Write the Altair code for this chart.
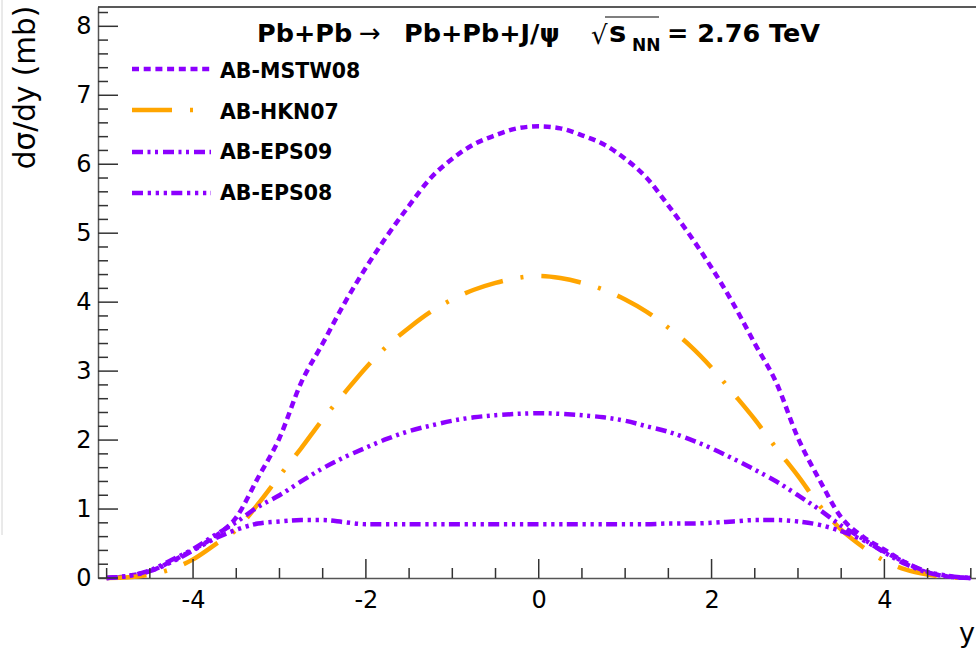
import altair as alt
import pandas as pd

# ---------------- data ----------------
rapidity = [-5.0, -4.75, -4.5, -4.25, -4.0, -3.75, -3.5, -3.25, -3.0, -2.75,
            -2.5, -2.25, -2.0, -1.75, -1.5, -1.25, -1.0, -0.75, -0.5, -0.25,
            0.0,
            0.25, 0.5, 0.75, 1.0, 1.25, 1.5, 1.75, 2.0, 2.25, 2.5,
            2.75, 3.0, 3.25, 3.5, 3.75, 4.0, 4.25, 4.5, 4.75, 5.0]

mstw08 = [0.0, 0.03, 0.10, 0.24, 0.41, 0.60, 0.88, 1.45, 2.03, 2.83,
          3.40, 3.98, 4.50, 4.97, 5.40, 5.80, 6.08, 6.29, 6.42, 6.52,
          6.55,
          6.52, 6.42, 6.29, 6.08, 5.80, 5.40, 4.97, 4.50, 3.98, 3.40,
          2.83, 2.03, 1.42, 0.88, 0.60, 0.41, 0.22, 0.08, 0.02, 0.0]

hkn07 = [0.0, 0.01, 0.05, 0.13, 0.27, 0.48, 0.70, 1.07, 1.48, 1.88,
         2.30, 2.68, 3.05, 3.37, 3.63, 3.86, 4.04, 4.18, 4.28, 4.35,
         4.38,
         4.35, 4.28, 4.18, 4.04, 3.86, 3.63, 3.37, 3.05, 2.68, 2.30,
         1.88, 1.48, 1.05, 0.70, 0.45, 0.25, 0.12, 0.05, 0.01, 0.0]

eps09 = [0.0, 0.03, 0.11, 0.26, 0.42, 0.62, 0.81, 1.03, 1.20, 1.40,
         1.59, 1.75, 1.89, 2.02, 2.13, 2.21, 2.28, 2.33, 2.36, 2.38,
         2.39,
         2.38, 2.36, 2.33, 2.28, 2.20, 2.12, 2.01, 1.88, 1.73, 1.57,
         1.40, 1.20, 0.99, 0.76, 0.57, 0.37, 0.20, 0.08, 0.02, 0.0]

eps08 = [0.0, 0.03, 0.10, 0.23, 0.40, 0.57, 0.70, 0.79, 0.82, 0.84,
         0.84, 0.81, 0.78, 0.78, 0.78, 0.78, 0.78, 0.78, 0.78, 0.78,
         0.78,
         0.78, 0.78, 0.78, 0.78, 0.78, 0.79, 0.79, 0.80, 0.82, 0.84,
         0.84, 0.82, 0.77, 0.68, 0.55, 0.38, 0.22, 0.09, 0.03, 0.0]

series_names = ["AB-MSTW08", "AB-HKN07", "AB-EPS09", "AB-EPS08"]
series_colors = ["#8C00FF", "#FFA500", "#8C00FF", "#8C00FF"]
series_dashes = [[7, 4.7], [40, 18, 3, 18], [11, 4.5, 3, 4.5, 3, 5],
                 [11, 4.7, 3.3, 4.7, 3.3, 4.7, 3.3, 4.3]]

x_label_values = [-4, -2, 0, 2, 4]
y_label_values = [0, 1, 2, 3, 4, 5, 6, 7, 8]
x_major_ticks = [-4, -2, 0, 2, 4]
x_minor_ticks = [-5, -4.5, -3.5, -3, -2.5, -1.5, -1, -0.5,
                 0.5, 1, 1.5, 2.5, 3, 3.5, 4.5, 5]
y_major_ticks = [0, 1, 2, 3, 4, 5, 6, 7, 8]
y_minor_ticks = [round(i * 0.2, 1) for i in range(0, 42) if i % 5 != 0]

rows = []
for name, vals in zip(series_names, [mstw08, hkn07, eps09, eps08]):
    for yy, v in zip(rapidity, vals):
        rows.append({"rap": yy, "val": v, "series": name})
df = pd.DataFrame(rows)

# ---------------- layout ----------------
W, H = 878, 571
FONT = "DejaVu Sans"
xscale = alt.Scale(domain=[-5.1, 5.06], nice=False, zero=False)
yscale = alt.Scale(domain=[0, 8.28], nice=False, zero=False)

x_axis = alt.Axis(values=x_label_values, ticks=False, tickSize=0,
                  domainColor="#555", domainWidth=1.5, grid=False,
                  labelFont=FONT, labelFontSize=24, labelColor="black",
                  labelPadding=10, title=None,
                  labelExpr="datum.value < 0 ? '-' + abs(datum.value) : '' + datum.value")
y_axis = alt.Axis(values=y_label_values, ticks=False, tickSize=0,
                  domainColor="#555", domainWidth=1.5, grid=False,
                  labelFont=FONT, labelFontSize=24, labelColor="black",
                  labelPadding=7, title=None, labelExpr="'' + datum.value")

lines = alt.Chart(df).mark_line(strokeWidth=4.5, interpolate="monotone").encode(
    x=alt.X("rap:Q", scale=xscale, axis=x_axis),
    y=alt.Y("val:Q", scale=yscale, axis=y_axis),
    color=alt.Color("series:N", scale=alt.Scale(domain=series_names, range=series_colors), legend=None),
    strokeDash=alt.StrokeDash("series:N", scale=alt.Scale(domain=series_names, range=series_dashes), legend=None),
)

TICK_COLOR = "#333"
xt_major = alt.Chart(pd.DataFrame({"rap": x_major_ticks})).mark_rule(color=TICK_COLOR, strokeWidth=1.5).encode(
    x=alt.X("rap:Q", scale=xscale, axis=x_axis), y=alt.value(H), y2=alt.value(H - 19))
xt_minor = alt.Chart(pd.DataFrame({"rap": x_minor_ticks})).mark_rule(color=TICK_COLOR, strokeWidth=1.5).encode(
    x=alt.X("rap:Q", scale=xscale, axis=x_axis), y=alt.value(H), y2=alt.value(H - 10))
yt_major = alt.Chart(pd.DataFrame({"val": y_major_ticks})).mark_rule(color=TICK_COLOR, strokeWidth=1.5).encode(
    y=alt.Y("val:Q", scale=yscale, axis=y_axis), x=alt.value(0), x2=alt.value(20))
yt_minor = alt.Chart(pd.DataFrame({"val": y_minor_ticks})).mark_rule(color=TICK_COLOR, strokeWidth=1.5).encode(
    y=alt.Y("val:Q", scale=yscale, axis=y_axis), x=alt.value(0), x2=alt.value(10))

top_frame = alt.Chart(pd.DataFrame({"a": [0]})).mark_rule(color="#222", strokeWidth=1.5).encode(
    x=alt.value(0), x2=alt.value(W), y=alt.value(0))

edge_line = alt.Chart(pd.DataFrame({"a": [0]})).mark_rule(color="#d4d4d4", strokeWidth=1).encode(
    x=alt.value(-96), y=alt.value(-7), y2=alt.value(528))

one = pd.DataFrame({"a": [0]})


def txt(s, x, y, size, weight="normal", align="left", baseline="alphabetic", angle=0, font=FONT):
    kw = dict(text=s, fontSize=size, fontWeight=weight, align=align, baseline=baseline,
              font=font, color="black")
    if angle:
        kw["angle"] = angle
    return alt.Chart(one).mark_text(**kw).encode(x=alt.value(x), y=alt.value(y))


# legend keys
legend_y = [62, 103, 145, 186]
legend_label_y = [71, 111.5, 152, 192.5]
legend_layers = []
for name, col, dash, ly, lty in zip(series_names, series_colors, series_dashes, legend_y, legend_label_y):
    legend_layers.append(
        alt.Chart(one).mark_rule(color=col, strokeWidth=4.5, strokeDash=dash).encode(
            x=alt.value(34), x2=alt.value(113), y=alt.value(ly)))
    legend_layers.append(txt(name, 122, lty, 20.5, weight="bold"))

# title pieces
title_layers = [
    txt("Pb+Pb", 159, 35, 25.5, weight="bold"),
    txt("\u2192", 261, 35, 26),
    txt("Pb+Pb+J/\u03c8", 306, 35, 25.5, weight="bold"),
    txt("\u221a", 493, 37, 26),
    txt("s", 511, 35, 29, weight="bold"),
    txt("NN", 534, 44, 17, weight="bold"),
    txt("= 2.76 TeV", 569, 35, 25.5, weight="bold"),
    alt.Chart(one).mark_rule(color="black", strokeWidth=1.2).encode(
        x=alt.value(507), x2=alt.value(561), y=alt.value(10)),
]

axis_titles = [
    txt("d\u03c3/dy (mb)", -63, 80.5, 29.5, angle=270, align="center"),
    txt("y", 877, 635, 27, align="right"),
]

chart = alt.layer(
    lines, xt_major, xt_minor, yt_major, yt_minor, top_frame, edge_line,
    *legend_layers, *title_layers, *axis_titles
).properties(
    width=W, height=H,
    padding={"left": 98, "top": 7, "right": 0, "bottom": 79},
    autosize=alt.AutoSizeParams(type="none"),
    background="white",
).configure_view(stroke=None)

chart.save("out.html", embed_options={"renderer": "svg", "actions": False})
